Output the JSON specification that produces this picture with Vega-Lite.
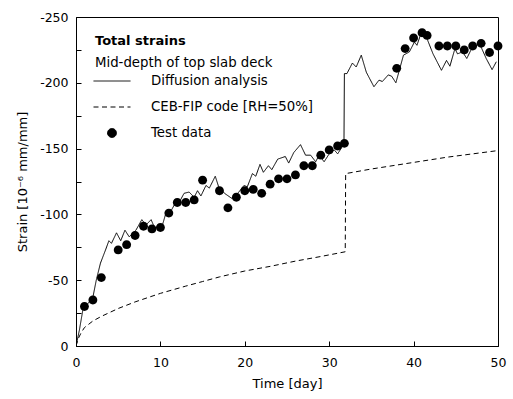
{
  "$schema": "https://vega.github.io/schema/vega-lite/v6.json",
  "width": 422,
  "height": 329,
  "autosize": {"type": "none"},
  "padding": {"left": 76, "top": 17, "right": 15, "bottom": 53},
  "background": "white",
  "config": {
    "view": {"stroke": "black", "strokeWidth": 1},
    "font": "DejaVu Sans",
    "axis": {"grid": false, "domainColor": "black", "tickColor": "black", "labelColor": "black", "titleColor": "black", "labelFont": "DejaVu Sans", "titleFont": "DejaVu Sans", "labelFontSize": 12.5, "titleFontSize": 13, "titleFontWeight": "normal", "tickSize": -5, "labelPadding": 13, "labelFlush": false}
  },
  "title": {"text": "Total strains", "subtitle": "Mid-depth of top slab deck", "anchor": "start", "frame": "group", "orient": "top", "offset": -58, "dx": 19, "font": "DejaVu Sans", "fontSize": 13, "fontWeight": "bold", "color": "black", "subtitleFont": "DejaVu Sans", "subtitleFontSize": 13.3, "subtitleColor": "black", "subtitlePadding": 8},
  "data": {"values": [
    {"series": "Diffusion analysis", "day": 0, "strain": 0},
    {"series": "Diffusion analysis", "day": 0.4, "strain": -12},
    {"series": "Diffusion analysis", "day": 0.8, "strain": -27},
    {"series": "Diffusion analysis", "day": 1.5, "strain": -33},
    {"series": "Diffusion analysis", "day": 2.0, "strain": -37},
    {"series": "Diffusion analysis", "day": 2.4, "strain": -50},
    {"series": "Diffusion analysis", "day": 2.9, "strain": -63},
    {"series": "Diffusion analysis", "day": 3.5, "strain": -73},
    {"series": "Diffusion analysis", "day": 3.9, "strain": -80},
    {"series": "Diffusion analysis", "day": 4.2, "strain": -78},
    {"series": "Diffusion analysis", "day": 4.8, "strain": -86},
    {"series": "Diffusion analysis", "day": 5.3, "strain": -80},
    {"series": "Diffusion analysis", "day": 5.8, "strain": -88},
    {"series": "Diffusion analysis", "day": 6.3, "strain": -83},
    {"series": "Diffusion analysis", "day": 7.1, "strain": -88},
    {"series": "Diffusion analysis", "day": 7.8, "strain": -96},
    {"series": "Diffusion analysis", "day": 8.3, "strain": -92},
    {"series": "Diffusion analysis", "day": 8.9, "strain": -96},
    {"series": "Diffusion analysis", "day": 9.3, "strain": -90},
    {"series": "Diffusion analysis", "day": 10.2, "strain": -91},
    {"series": "Diffusion analysis", "day": 10.7, "strain": -102},
    {"series": "Diffusion analysis", "day": 11.2, "strain": -102},
    {"series": "Diffusion analysis", "day": 11.8, "strain": -109},
    {"series": "Diffusion analysis", "day": 12.3, "strain": -110},
    {"series": "Diffusion analysis", "day": 12.8, "strain": -116},
    {"series": "Diffusion analysis", "day": 13.4, "strain": -117},
    {"series": "Diffusion analysis", "day": 14.0, "strain": -113},
    {"series": "Diffusion analysis", "day": 14.4, "strain": -118},
    {"series": "Diffusion analysis", "day": 14.8, "strain": -114},
    {"series": "Diffusion analysis", "day": 15.4, "strain": -122},
    {"series": "Diffusion analysis", "day": 15.8, "strain": -120},
    {"series": "Diffusion analysis", "day": 16.5, "strain": -129},
    {"series": "Diffusion analysis", "day": 16.9, "strain": -121},
    {"series": "Diffusion analysis", "day": 17.6, "strain": -116},
    {"series": "Diffusion analysis", "day": 18.5, "strain": -112},
    {"series": "Diffusion analysis", "day": 19.3, "strain": -117},
    {"series": "Diffusion analysis", "day": 19.9, "strain": -122},
    {"series": "Diffusion analysis", "day": 20.3, "strain": -121},
    {"series": "Diffusion analysis", "day": 20.9, "strain": -131},
    {"series": "Diffusion analysis", "day": 21.3, "strain": -129},
    {"series": "Diffusion analysis", "day": 21.8, "strain": -138},
    {"series": "Diffusion analysis", "day": 22.2, "strain": -132},
    {"series": "Diffusion analysis", "day": 22.8, "strain": -137},
    {"series": "Diffusion analysis", "day": 23.2, "strain": -134},
    {"series": "Diffusion analysis", "day": 23.9, "strain": -142},
    {"series": "Diffusion analysis", "day": 24.8, "strain": -144},
    {"series": "Diffusion analysis", "day": 25.2, "strain": -139},
    {"series": "Diffusion analysis", "day": 25.8, "strain": -147},
    {"series": "Diffusion analysis", "day": 26.6, "strain": -153},
    {"series": "Diffusion analysis", "day": 27.2, "strain": -145},
    {"series": "Diffusion analysis", "day": 27.8, "strain": -145},
    {"series": "Diffusion analysis", "day": 28.4, "strain": -140},
    {"series": "Diffusion analysis", "day": 28.8, "strain": -145},
    {"series": "Diffusion analysis", "day": 29.4, "strain": -140},
    {"series": "Diffusion analysis", "day": 30.0, "strain": -146},
    {"series": "Diffusion analysis", "day": 30.6, "strain": -149},
    {"series": "Diffusion analysis", "day": 31.0, "strain": -146},
    {"series": "Diffusion analysis", "day": 31.5, "strain": -151},
    {"series": "Diffusion analysis", "day": 31.75, "strain": -154},
    {"series": "Diffusion analysis", "day": 31.8, "strain": -207},
    {"series": "Diffusion analysis", "day": 32.1, "strain": -207},
    {"series": "Diffusion analysis", "day": 32.75, "strain": -215},
    {"series": "Diffusion analysis", "day": 33.2, "strain": -212},
    {"series": "Diffusion analysis", "day": 33.8, "strain": -221},
    {"series": "Diffusion analysis", "day": 34.4, "strain": -208},
    {"series": "Diffusion analysis", "day": 35.3, "strain": -197},
    {"series": "Diffusion analysis", "day": 35.9, "strain": -202},
    {"series": "Diffusion analysis", "day": 36.3, "strain": -201},
    {"series": "Diffusion analysis", "day": 37.0, "strain": -206},
    {"series": "Diffusion analysis", "day": 37.4, "strain": -205},
    {"series": "Diffusion analysis", "day": 37.9, "strain": -200},
    {"series": "Diffusion analysis", "day": 38.8, "strain": -221},
    {"series": "Diffusion analysis", "day": 39.5, "strain": -223.5},
    {"series": "Diffusion analysis", "day": 40.1, "strain": -231},
    {"series": "Diffusion analysis", "day": 40.4, "strain": -228.5},
    {"series": "Diffusion analysis", "day": 40.9, "strain": -238},
    {"series": "Diffusion analysis", "day": 41.5, "strain": -235},
    {"series": "Diffusion analysis", "day": 42.3, "strain": -222},
    {"series": "Diffusion analysis", "day": 43.3, "strain": -209.5},
    {"series": "Diffusion analysis", "day": 43.9, "strain": -217},
    {"series": "Diffusion analysis", "day": 44.3, "strain": -212.6},
    {"series": "Diffusion analysis", "day": 44.9, "strain": -226},
    {"series": "Diffusion analysis", "day": 45.2, "strain": -222},
    {"series": "Diffusion analysis", "day": 45.8, "strain": -223.5},
    {"series": "Diffusion analysis", "day": 46.3, "strain": -218.5},
    {"series": "Diffusion analysis", "day": 46.8, "strain": -225},
    {"series": "Diffusion analysis", "day": 47.8, "strain": -230},
    {"series": "Diffusion analysis", "day": 48.6, "strain": -218.5},
    {"series": "Diffusion analysis", "day": 49.3, "strain": -210},
    {"series": "Diffusion analysis", "day": 49.8, "strain": -216},
    {"series": "CEB-FIP code [RH=50%]", "day": 0, "strain": 0},
    {"series": "CEB-FIP code [RH=50%]", "day": 0.3, "strain": -6},
    {"series": "CEB-FIP code [RH=50%]", "day": 0.6, "strain": -10},
    {"series": "CEB-FIP code [RH=50%]", "day": 1, "strain": -14},
    {"series": "CEB-FIP code [RH=50%]", "day": 2, "strain": -19},
    {"series": "CEB-FIP code [RH=50%]", "day": 3, "strain": -22.5},
    {"series": "CEB-FIP code [RH=50%]", "day": 5, "strain": -28.5},
    {"series": "CEB-FIP code [RH=50%]", "day": 7, "strain": -33.5},
    {"series": "CEB-FIP code [RH=50%]", "day": 10, "strain": -40},
    {"series": "CEB-FIP code [RH=50%]", "day": 13, "strain": -45.5},
    {"series": "CEB-FIP code [RH=50%]", "day": 15, "strain": -49},
    {"series": "CEB-FIP code [RH=50%]", "day": 17, "strain": -52.5},
    {"series": "CEB-FIP code [RH=50%]", "day": 20, "strain": -57},
    {"series": "CEB-FIP code [RH=50%]", "day": 23, "strain": -60.5},
    {"series": "CEB-FIP code [RH=50%]", "day": 26, "strain": -64.5},
    {"series": "CEB-FIP code [RH=50%]", "day": 29, "strain": -68},
    {"series": "CEB-FIP code [RH=50%]", "day": 31.9, "strain": -71.6},
    {"series": "CEB-FIP code [RH=50%]", "day": 31.95, "strain": -131},
    {"series": "CEB-FIP code [RH=50%]", "day": 35, "strain": -134.5},
    {"series": "CEB-FIP code [RH=50%]", "day": 38, "strain": -137.5},
    {"series": "CEB-FIP code [RH=50%]", "day": 41, "strain": -140.5},
    {"series": "CEB-FIP code [RH=50%]", "day": 44, "strain": -143.5},
    {"series": "CEB-FIP code [RH=50%]", "day": 47, "strain": -146},
    {"series": "CEB-FIP code [RH=50%]", "day": 50, "strain": -148.5},
    {"series": "Test data", "day": 1, "strain": -30},
    {"series": "Test data", "day": 2, "strain": -35},
    {"series": "Test data", "day": 3, "strain": -52},
    {"series": "Test data", "day": 5, "strain": -73},
    {"series": "Test data", "day": 6, "strain": -77},
    {"series": "Test data", "day": 7, "strain": -84},
    {"series": "Test data", "day": 8, "strain": -91},
    {"series": "Test data", "day": 9, "strain": -89},
    {"series": "Test data", "day": 10, "strain": -90},
    {"series": "Test data", "day": 11, "strain": -101},
    {"series": "Test data", "day": 12, "strain": -109},
    {"series": "Test data", "day": 13, "strain": -109},
    {"series": "Test data", "day": 14, "strain": -111},
    {"series": "Test data", "day": 15, "strain": -126},
    {"series": "Test data", "day": 17, "strain": -118},
    {"series": "Test data", "day": 18, "strain": -105},
    {"series": "Test data", "day": 19, "strain": -113},
    {"series": "Test data", "day": 20, "strain": -118},
    {"series": "Test data", "day": 21, "strain": -119},
    {"series": "Test data", "day": 22, "strain": -116},
    {"series": "Test data", "day": 23, "strain": -123},
    {"series": "Test data", "day": 24, "strain": -127},
    {"series": "Test data", "day": 25, "strain": -127},
    {"series": "Test data", "day": 26, "strain": -130},
    {"series": "Test data", "day": 27, "strain": -137},
    {"series": "Test data", "day": 28, "strain": -137},
    {"series": "Test data", "day": 29, "strain": -145},
    {"series": "Test data", "day": 30, "strain": -149},
    {"series": "Test data", "day": 31, "strain": -152},
    {"series": "Test data", "day": 31.8, "strain": -154},
    {"series": "Test data", "day": 38, "strain": -211},
    {"series": "Test data", "day": 39, "strain": -226},
    {"series": "Test data", "day": 40, "strain": -234},
    {"series": "Test data", "day": 41, "strain": -238},
    {"series": "Test data", "day": 41.6, "strain": -236},
    {"series": "Test data", "day": 43, "strain": -228},
    {"series": "Test data", "day": 44, "strain": -228},
    {"series": "Test data", "day": 45, "strain": -228},
    {"series": "Test data", "day": 46, "strain": -225},
    {"series": "Test data", "day": 47, "strain": -228},
    {"series": "Test data", "day": 48, "strain": -230},
    {"series": "Test data", "day": 49, "strain": -223},
    {"series": "Test data", "day": 50, "strain": -228}
  ]},
  "encoding": {
    "x": {"field": "day", "type": "quantitative", "scale": {"domain": [0, 50], "nice": false}, "axis": {"title": "Time [day]", "values": [0, 10, 20, 30, 40, 50], "labelPadding": 15, "titlePadding": 9}},
    "y": {"field": "strain", "type": "quantitative", "scale": {"domain": [0, -250], "nice": false, "zero": false}, "axis": {"title": "Strain [10⁻⁶ mm/mm]", "values": [0, -25, -50, -75, -100, -125, -150, -175, -200, -225, -250], "labelExpr": "datum.value % 50 == 0 ? '' + datum.value : ''", "titlePadding": 10}}
  },
  "layer": [
    {
      "transform": [{"filter": "datum.series != 'Test data'"}],
      "mark": {"type": "line", "color": "black", "strokeWidth": 1, "clip": true},
      "encoding": {
        "strokeDash": {"field": "series", "type": "nominal", "scale": {"domain": ["Diffusion analysis", "CEB-FIP code [RH=50%]", "Test data"], "range": [[1, 0], [5, 3.5], [1, 0]]},
          "legend": {"title": null, "orient": "none", "legendX": 17, "legendY": 45, "labelOffset": 20, "rowPadding": -16, "labelLimit": 300, "symbolSize": 1369, "symbolStrokeColor": "black", "symbolFillColor": "black", "symbolStrokeWidth": 1, "labelFontSize": 13.3, "labelFont": "DejaVu Sans", "labelColor": "black", "padding": 0,
            "encode": {"symbols": {"update": {"stroke": {"value": "black"}, "strokeWidth": {"value": 1}, "fill": {"value": "black"}, "opacity": {"value": 1}}}}}}
      }
    },
    {
      "transform": [{"filter": "datum.series == 'Test data'"}],
      "mark": {"type": "point", "filled": true, "color": "black", "opacity": 1, "size": 1369},
      "encoding": {
        "shape": {"field": "series", "type": "nominal", "scale": {"domain": ["Diffusion analysis", "CEB-FIP code [RH=50%]", "Test data"], "range": ["stroke", "stroke", "M -0.24,0 A 0.24,0.24 0 1,0 0.24,0 A 0.24,0.24 0 1,0 -0.24,0 Z"]},
          "legend": {"title": null, "orient": "none", "legendX": 17, "legendY": 45, "labelOffset": 20, "rowPadding": -16, "labelLimit": 300, "symbolSize": 1369, "symbolStrokeColor": "black", "symbolFillColor": "black", "symbolStrokeWidth": 1, "labelFontSize": 13.3, "labelFont": "DejaVu Sans", "labelColor": "black", "padding": 0,
            "encode": {"symbols": {"update": {"stroke": {"value": "black"}, "strokeWidth": {"value": 1}, "fill": {"value": "black"}, "opacity": {"value": 1}}}}}}
      }
    }
  ]
}
